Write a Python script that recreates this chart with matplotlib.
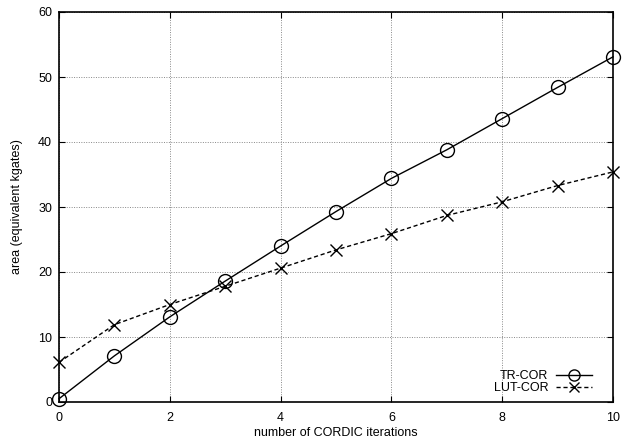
import matplotlib
matplotlib.use("Agg")
import matplotlib.pyplot as plt

iterations = [0, 1, 2, 3, 4, 5, 6, 7, 8, 9, 10]
tr_cor = [0.5, 7.1, 13.1, 18.6, 24.0, 29.3, 34.4, 38.8, 43.6, 48.4, 53.1]
lut_cor = [6.1, 11.9, 15.0, 17.8, 20.6, 23.4, 25.9, 28.7, 30.8, 33.3, 35.4]
xticks = [0, 2, 4, 6, 8, 10]
yticks = [0, 10, 20, 30, 40, 50, 60]

plt.rcParams['font.family'] = ['Liberation Sans', 'DejaVu Sans']
fig = plt.figure(figsize=(6.33, 4.41), dpi=100)
ax = fig.add_axes([59/633, 1-402/441, (613-59)/633, (402-12)/441])

ax.plot(iterations, tr_cor, color='black', lw=1.0, marker='o', ms=10,
        mfc='none', mec='black', mew=1.0, label='TR-COR', clip_on=False, zorder=3)
ax.plot(iterations, lut_cor, color='black', lw=1.0, ls=(0, (3, 2)), marker='x', ms=9,
        mec='black', mew=1.0, label='LUT-COR', clip_on=False, zorder=3)

ax.set_xlim(0, 10)
ax.set_ylim(0, 60)
ax.set_xticks(xticks)
ax.set_yticks(yticks)
ax.tick_params(direction='in', top=True, right=True, labelsize=9, length=4, width=0.8, pad=5)
ax.tick_params(axis='x', pad=7)
ax.grid(True, color='#888888', ls=(0, (1, 1.5)), lw=0.7)
for s in ax.spines.values():
    s.set_linewidth(1.2)
ax.set_xlabel('number of CORDIC iterations', fontsize=9, labelpad=2)
ax.set_ylabel('area (equivalent kgates)', fontsize=9, labelpad=11)

leg = ax.legend(loc='lower right', frameon=False, markerfirst=False, fontsize=9,
                handlelength=2.9, handletextpad=0.6, borderpad=0.0, borderaxespad=0.0,
                labelspacing=0.0, markerscale=0.8, bbox_to_anchor=(0.962, 0.02))
for t in leg.get_texts():
    t.set_ha('right')

fig.savefig('out.png', dpi=100)
